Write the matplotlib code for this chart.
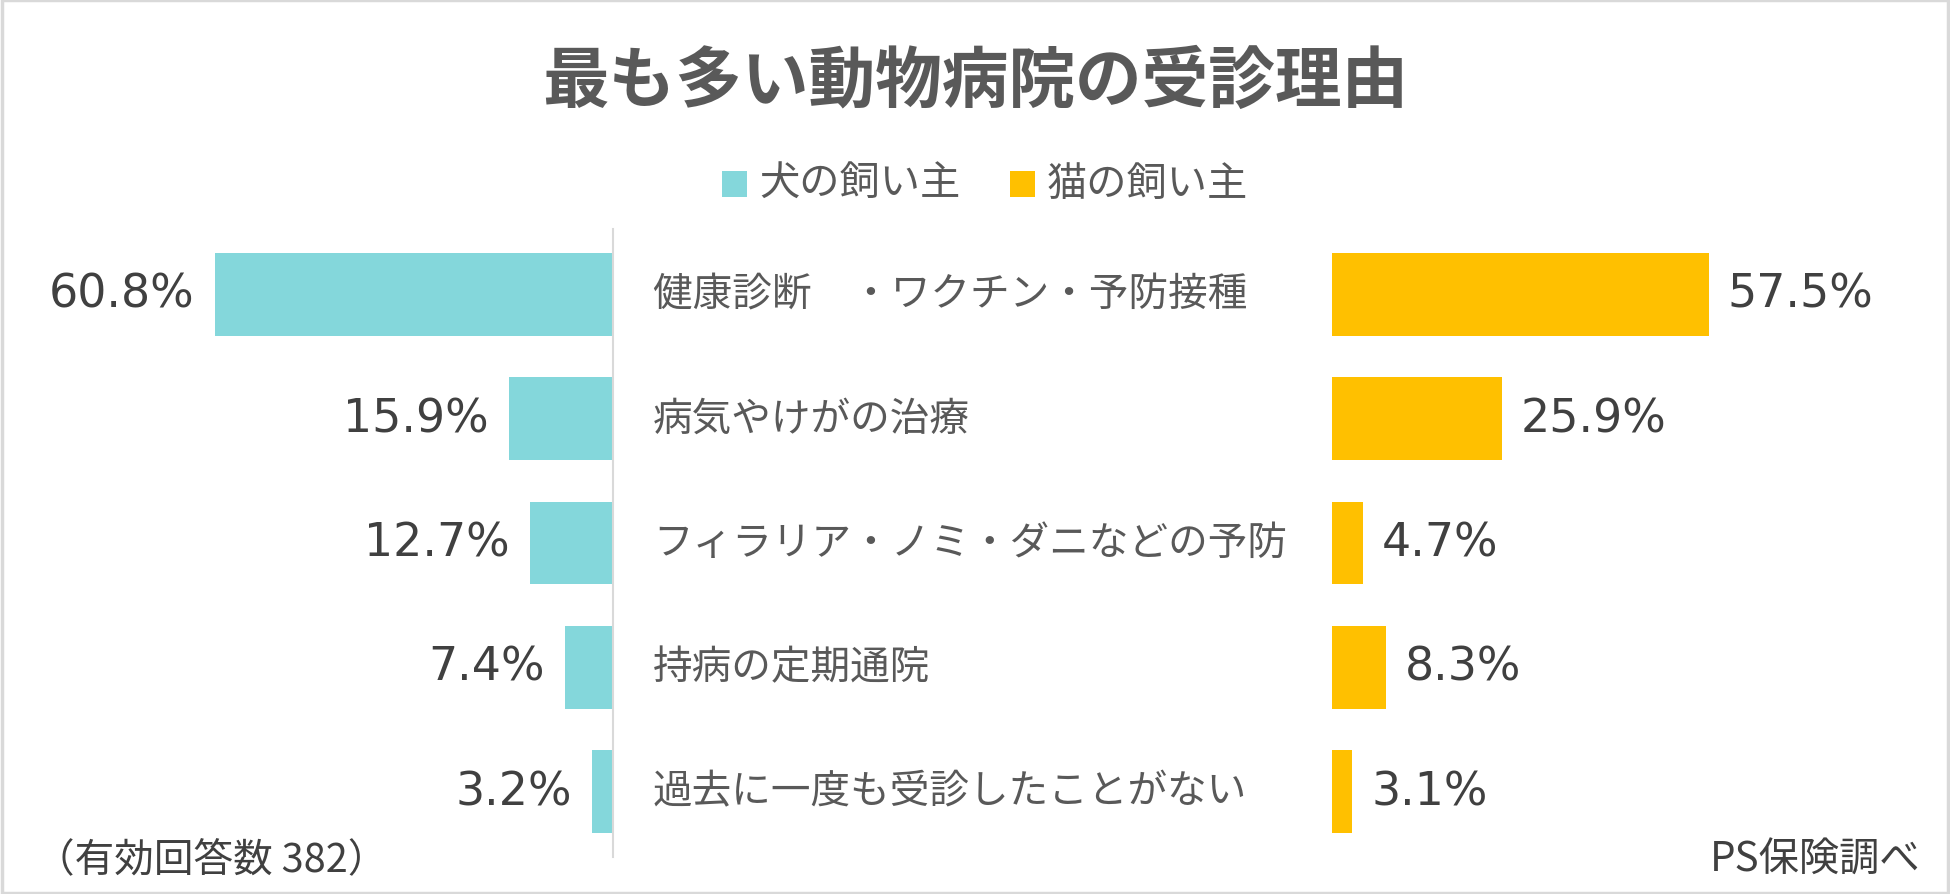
import matplotlib
matplotlib.use("Agg")
import matplotlib.pyplot as plt
from matplotlib.patches import Rectangle

plt.rcParams['font.family'] = ['Noto Sans CJK JP', 'DejaVu Sans']

title = "最も多い動物病院の受診理由"
categories = ["健康診断　・ワクチン・予防接種", "病気やけがの治療", "フィラリア・ノミ・ダニなどの予防",
              "持病の定期通院", "過去に一度も受診したことがない"]
dog_values = [60.8, 15.9, 12.7, 7.4, 3.2]
cat_values = [57.5, 25.9, 4.7, 8.3, 3.1]
series_names = ["犬の飼い主", "猫の飼い主"]
note_left = "（有効回答数 382）"
note_right = "PS保険調べ"

dog_color = "#84D7DB"
cat_color = "#FFC000"
text_color = "#595959"
value_color = "#404040"

W, H = 1950, 895
fig = plt.figure(figsize=(W / 100, H / 100), dpi=100)
fig.patch.set_facecolor("white")

# frame
fig.add_artist(Rectangle((0.001, 0.001), 0.998, 0.998, transform=fig.transFigure,
                         fill=False, edgecolor="#D9D9D9", linewidth=2.5))

px_per_pct = 6.55
top, bottom = 233, 855
ax_h = (bottom - top) / H
ax_y0 = 1 - bottom / H

left_x0, left_x1 = 0, 613
axL = fig.add_axes([left_x0 / W, ax_y0, (left_x1 - left_x0) / W, ax_h])
right_x0, right_x1 = 1332, 1950
axR = fig.add_axes([right_x0 / W, ax_y0, (right_x1 - right_x0) / W, ax_h])

n = len(categories)
ypos = list(range(n))
axL.barh(ypos, dog_values, height=0.667, color=dog_color)
axR.barh(ypos, cat_values, height=0.667, color=cat_color)

axL.set_xlim((left_x1 - left_x0) / px_per_pct, 0)
axR.set_xlim(0, (right_x1 - right_x0) / px_per_pct)
for ax in (axL, axR):
    ax.set_ylim(n - 0.5, -0.5)
    ax.set_xticks([])
    ax.set_yticks([])
    for s in ax.spines.values():
        s.set_visible(False)
    ax.patch.set_alpha(0)

axL.axvline(0, ymin=-0.005, ymax=1.005, color="#D9D9D9", linewidth=1.5, clip_on=False)

val_font = ['DejaVu Sans', 'Noto Sans CJK JP']
for i, (c, dv, cv) in enumerate(zip(categories, dog_values, cat_values)):
    axL.annotate(f"{dv:.1f}%", xy=(dv, i), xytext=(-20, 0), textcoords="offset pixels",
                 ha="right", va="center", fontsize=33, color=value_color, family=val_font)
    axR.annotate(f"{cv:.1f}%", xy=(cv, i), xytext=(19, 0), textcoords="offset pixels",
                 ha="left", va="center", fontsize=33, color=value_color, family=val_font)
    axL.annotate(c, xy=(0, i), xytext=(40, 0), textcoords="offset pixels",
                 ha="left", va="center", fontsize=28.5, color=text_color)

fig.text(0.5, 1 - 82 / H, title, ha="center", va="center", fontsize=48,
         fontweight="bold", color=text_color)

leg_y = 1 - 184 / H
sq_w, sq_h = 25 / W, 26 / H
for x_sq, name, col in [(722, series_names[0], dog_color), (1010, series_names[1], cat_color)]:
    fig.add_artist(Rectangle((x_sq / W, 1 - 198 / H), sq_w, sq_h, transform=fig.transFigure,
                             facecolor=col, edgecolor="none"))
    fig.text((x_sq + 37) / W, leg_y, name, ha="left", va="center", fontsize=29, color=text_color)

fig.text(35 / W, 1 - 860 / H, note_left, ha="left", va="center", fontsize=28.5, color=value_color)
fig.text(1920 / W, 1 - 860 / H, note_right, ha="right", va="center", fontsize=29, color=value_color)

fig.savefig("out.png", dpi=100, facecolor="white")
